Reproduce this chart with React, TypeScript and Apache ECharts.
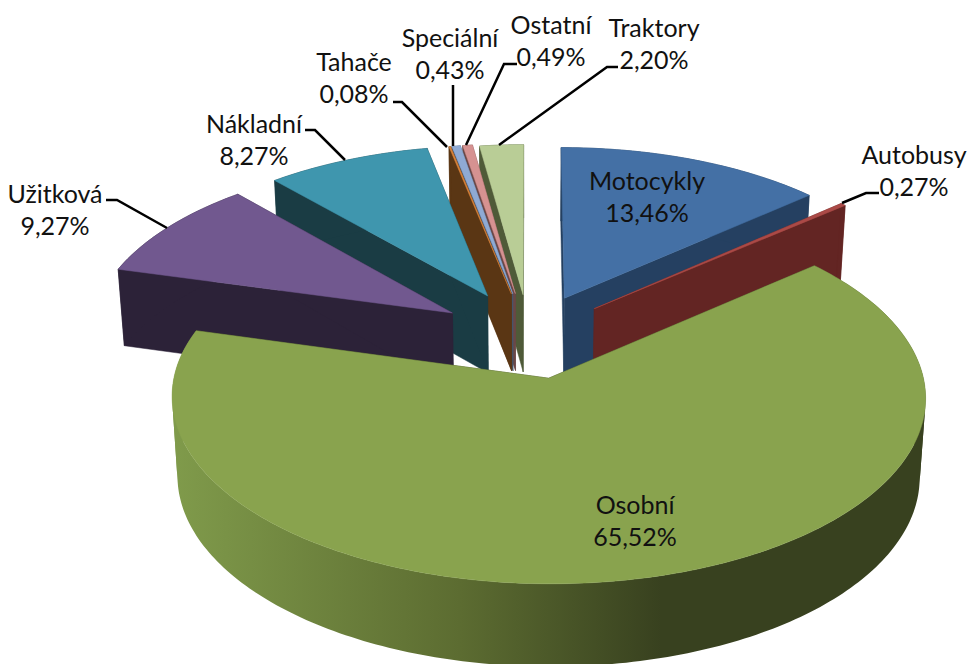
import React, { useEffect, useRef } from "react";
import * as echarts from "echarts";

const categories = ["Motocykly", "Autobusy", "Osobní", "Užitková", "Nákladní", "Tahače", "Speciální", "Ostatní", "Traktory"];
const values = [13.46, 0.27, 65.52, 9.27, 8.27, 0.08, 0.43, 0.49, 2.2];
const topColors = ["#4470a5", "#ab4a47", "#89a34e", "#71588f", "#3f96ae", "#d8823a", "#8faad4", "#d69291", "#b9cd96"];
const sideColors = ["#254061", "#632523", "#38411f", "#2c2238", "#1a3c44", "#5a3614", "#46566c", "#6b4746", "#4f5a38"];
const drawRank = [6, 7, 8, 5, 4, 3, 2, 1, 0];
const explosions = [0.24, 0.24, 0.24, 0.25, 0.26, 0.25, 0.25, 0.25, 0.24];
const radii = [0.98, 0.99, 1, 0.99, 0.98, 0.98, 0.98, 0.98, 0.98];
const labelPositions = [
  [647, 196], [914, 170], [635, 520], [55, 209], [254, 139], [354, 77], [450, 53], [551, 40], [654, 43],
];
const leaderLines = [
  null,
  [[879, 193], [866, 193], [842, 203]],
  null,
  [[106, 200], [117, 200], [167, 228]],
  [[305, 130], [315, 130], [345, 160]],
  [[393, 102], [402, 102], [447, 147]],
  [[453, 85], [453, 146]],
  [[517, 64], [504, 64], [466, 145]],
  [[618, 67], [607, 67], [499, 145]],
];

const CX = 529, CY = 336, A = 366, B = 176, PX = 0.1, PY = 0.1, DEPTH = 78;
const total = values.reduce((a, b) => a + b, 0);

function top(X: number, Y: number): number[] {
  return [CX + (A * X) / (1 + PX * Y), CY - (B * Y) / (1 + PY * Y)];
}
function bottom(X: number, Y: number): number[] {
  const p = top(X, Y);
  return [CX + (p[0] - CX) * 0.985, p[1] + DEPTH * (1 - 0.05 * Y)];
}

// Splits the outer wall where it folds over, so each piece is a simple polygon.
function outerPieces(t: number[][], b: number[][]): number[][][] {
  const pieces: number[][][] = [];
  let from = 0, sign = 0;
  for (let k = 0; k < t.length - 1; k++) {
    const ax = t[k + 1][0] - t[k][0], ay = t[k + 1][1] - t[k][1];
    const bx = b[k][0] - t[k][0], by = b[k][1] - t[k][1];
    const s = Math.sign(ax * by - ay * bx) || sign;
    if (sign !== 0 && s !== sign) {
      pieces.push([...t.slice(from, k + 1), ...b.slice(from, k + 1).reverse()]);
      from = k;
    }
    sign = s;
  }
  pieces.push([...t.slice(from), ...b.slice(from).reverse()]);
  return pieces;
}

function renderSlice(params: any, api: any) {
  const i = params.dataIndex;
  const start = (values.slice(0, i).reduce((a, b) => a + b, 0) / total) * Math.PI * 2;
  const end = start + (api.value(0) / total) * Math.PI * 2;
  const mid = (start + end) / 2;
  const ox = explosions[i] * Math.sin(mid), oy = explosions[i] * Math.cos(mid);
  const n = Math.max(2, Math.ceil(((end - start) * 180) / Math.PI));
  const arc: number[][] = [];
  for (let k = 0; k <= n; k++) {
    const t = start + ((end - start) * k) / n;
    arc.push([ox + radii[i] * Math.sin(t), oy + radii[i] * Math.cos(t)]);
  }
  const arcTop = arc.map((q) => top(q[0], q[1]));
  const arcBottom = arc.map((q) => bottom(q[0], q[1]));
  const apexTop = top(ox, oy), apexBottom = bottom(ox, oy);
  const base = drawRank[i] * 10;
  const side = sideColors[i];
  const wall = (pts: number[][], z2: number, fill: any) => ({
    type: "polygon", z2, silent: true, shape: { points: pts },
    style: { fill, stroke: typeof fill === "string" ? fill : undefined, lineWidth: 0.5 },
  });
  const outerFill = i === 2
    ? new echarts.graphic.LinearGradient(171, 0, 925, 0, [
        { offset: 0, color: "#809b4b" },
        { offset: 0.383, color: "#5c6c31" },
        { offset: 0.65, color: "#38411f" },
        { offset: 1, color: "#38411f" },
      ], true)
    : side;
  return {
    type: "group",
    children: [
      wall([apexTop, arcTop[0], arcBottom[0], apexBottom], base + 1, side),
      wall([apexTop, arcTop[n], arcBottom[n], apexBottom], base + 1, side),
      ...outerPieces(arcTop, arcBottom).map((p) => wall(p, base + 2, outerFill)),
      wall([apexTop, ...arcTop], base + 3, topColors[i]),
    ],
  };
}

const fmt = (v: number) => v.toFixed(2).replace(".", ",") + "%";

export default function App() {
  const ref = useRef<HTMLDivElement>(null);
  useEffect(() => {
    document.body.style.margin = "0";
    const chart = echarts.init(ref.current!, null, { renderer: "svg" });
    const graphics: any[] = [];
    categories.forEach((c, i) => {
      const line = leaderLines[i];
      if (line) {
        graphics.push({
          type: "polyline", z: 5, silent: true, shape: { points: line },
          style: { fill: "none", stroke: "#000", lineWidth: 2.5 },
        });
      }
      graphics.push({
        type: "text", z: 6, silent: true, x: labelPositions[i][0], y: labelPositions[i][1],
        style: {
          text: c + "\n" + fmt(values[i]), fill: "#111", font: '25px Lato', lineHeight: 32,
          align: "center", verticalAlign: "middle",
        },
      });
    });
    chart.setOption({
      animation: false,
      backgroundColor: "#ffffff",
      series: [{
        type: "custom", coordinateSystem: "none", renderItem: renderSlice,
        data: values.map((v) => [v]), clip: false, silent: true,
      }],
      graphic: graphics,
    });
    return () => chart.dispose();
  }, []);
  return <div ref={ref} style={{ width: 968, height: 664 }} />;
}
